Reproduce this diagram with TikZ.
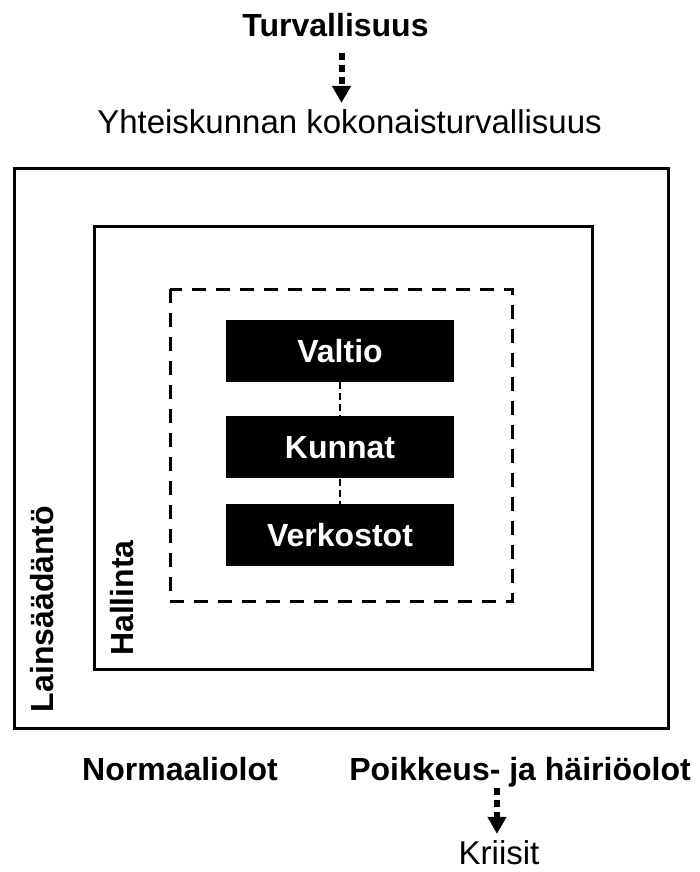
\documentclass[tikz,border=0pt]{standalone}
\usepackage{fontspec}
\setmainfont{Liberation Sans}
\usetikzlibrary{arrows.meta, positioning}

\begin{document}
\begin{tikzpicture}[
    x=1pt, y=-1pt,
    node distance=25pt,
    title/.style={font=\fontsize{32}{38}\selectfont\bfseries, inner sep=0pt, anchor=base},
    plain/.style={font=\fontsize{33}{40}\selectfont, inner sep=0pt, anchor=base},
    frame/.style={draw=black, line width=3pt},
    dashframe/.style={frame, dash pattern=on 14pt off 10pt},
    blackbox/.style={rectangle, fill=black, text=white, font=\fontsize{32}{38}\selectfont\bfseries, minimum width=228pt, minimum height=62pt, inner sep=0pt},
    link/.style={line width=1.5pt, dash pattern=on 7pt off 4pt},
    dotarrow/.style={line width=6pt, dash pattern=on 7pt off 5pt, -{Triangle[length=17pt, width=18pt]}}
]
\useasboundingbox (0,0) rectangle (700,872);

% top: from safety to comprehensive security
\node[title] (turv) at (335.5,37) {Turvallisuus};
\node[plain] (yht) at (349.5,133) {Yhteiskunnan kokonaisturvallisuus};
\draw[dotarrow, shorten <=15pt, shorten >=6pt] ([xshift=6pt]turv.south) -- ([xshift=6pt]turv.south |- yht.north);

% nested frames
\draw[frame] (14,168) rectangle (668,728);
\draw[frame] (94,226) rectangle (592,669);
\draw[dashframe] (170,289) rectangle (512,601);

\node[title, rotate=90] (lain) at (53,609) {Lainsäädäntö};
\node[title, rotate=90] (hall) at (133,598) {Hallinta};

% actors
\node[blackbox] (valtio) at (340,351) {Valtio};
\node[blackbox, below=34pt of valtio] (kunnat) {Kunnat};
\node[blackbox, below=of kunnat] (verk) {Verkostot};

\draw[link] (valtio) -- (kunnat);
\draw[link] (kunnat) -- (verk);

% bottom
\node[title] (norm) at (180,780) {Normaaliolot};
\node[title] (poik) at (520,780) {Poikkeus- ja häiriöolot};
\node[plain] (kri) at (499,864) {Kriisit};
\draw[dotarrow, shorten <=1pt, shorten >=6pt] ([xshift=-23pt]poik.south) -- ([xshift=-23pt]poik.south |- kri.north);
\end{tikzpicture}
\end{document}
